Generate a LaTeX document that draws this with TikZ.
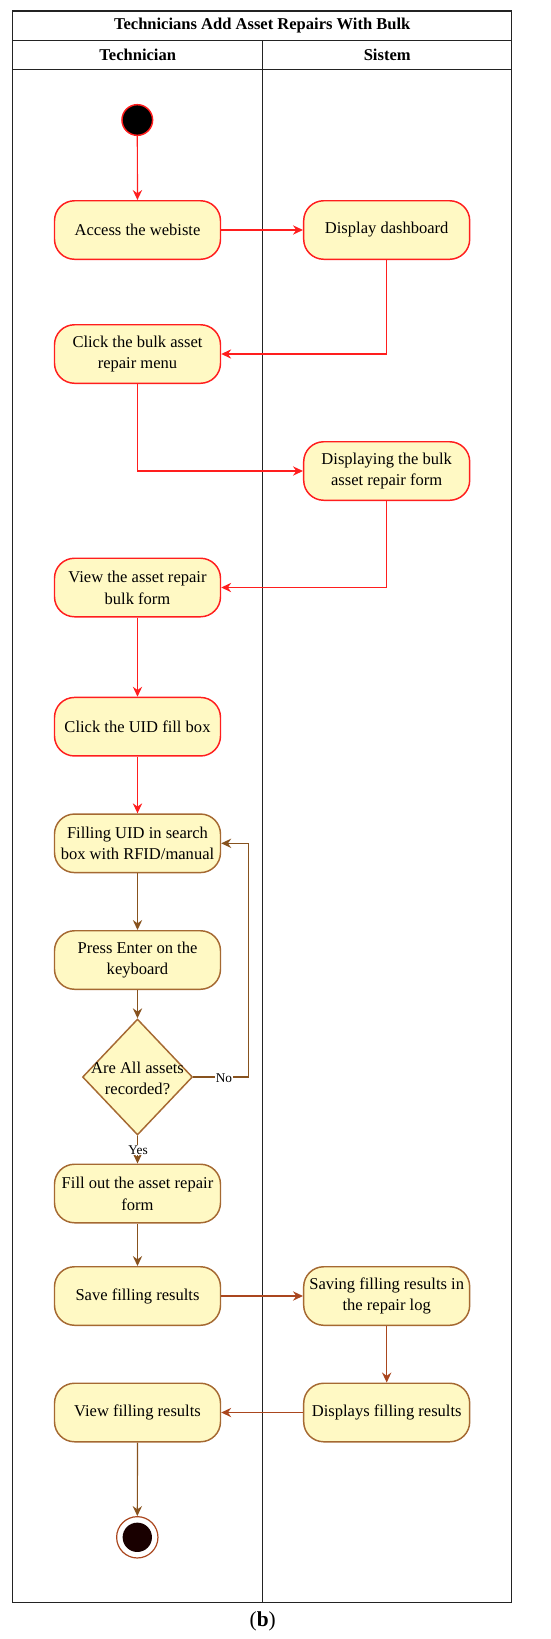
\documentclass[tikz,border=0pt]{standalone}
\usepackage{fontspec}
\setmainfont{Liberation Serif}
\usetikzlibrary{arrows.meta,shapes.geometric,calc}
\definecolor{actfill}{RGB}{255,249,196}
\definecolor{redl}{RGB}{255,30,30}
\definecolor{brownl}{RGB}{135,82,30}
\definecolor{rbrown}{RGB}{170,70,30}
\definecolor{bborder}{RGB}{165,105,50}
\definecolor{lanec}{RGB}{35,35,35}
\begin{document}
\begin{tikzpicture}[x=0.75pt,y=-0.75pt,
  txt/.style={font=\fontsize{12.4}{16.3}\selectfont},
  act/.style={txt, draw, fill=actfill, rounded corners=15pt, minimum width=124.5pt,
    minimum height=43.9pt, align=center, inner sep=1pt, line width=1.1pt},
  actr/.style={act, draw=redl},
  actb/.style={act, draw=bborder},
  arr/.style={-{Stealth[length=7.5pt,width=7pt,inset=2.5pt]}, line width=0.9pt},
  arrr/.style={arr, draw=redl},
  arrb/.style={arr, draw=brownl},
  arrrb/.style={arr, draw=rbrown},
  lane/.style={draw=lanec, line width=1.1pt},
  head/.style={font=\fontsize{12.4}{15}\selectfont\bfseries},
  lbl/.style={font=\fontsize{10}{12}\selectfont, fill=white, inner sep=0.5pt}
]
\useasboundingbox (0,0) rectangle (550,1639);
% frame and lanes
\draw[lane] (12.7,11) rectangle (511.7,1602.7);
\draw[lane] (12.7,40.3) -- (511.7,40.3);
\draw[lane] (12.7,69.3) -- (511.7,69.3);
\draw[lane] (262.7,40.3) -- (262.7,1602.7);
\node[head] (title) at (262.2,25.9) {Technicians Add Asset Repairs With Bulk};
\node[head] (htech) at (137.7,55) {Technician};
\node[head] (hsys) at (387.2,55) {Sistem};
% nodes
\node[circle, draw=redl, fill=black, line width=1.1pt, minimum size=23pt, inner sep=0pt] (start) at (137.3,120) {};
\node[actr] (access) at (137.5,230) {Access the webiste};
\node[actr] (dash) at (386.7,230) {Display dashboard};
\node[actr] (click) at (137.5,354) {Click the bulk asset\\repair menu};
\node[actr] (disp) at (386.7,471) {Displaying the bulk\\asset repair form};
\node[actr] (view) at (137.5,587.5) {View the asset repair\\bulk form};
\node[actr] (uid) at (137.5,726.7) {Click the UID fill box};
\node[actb] (fill) at (137.5,843.3) {Filling UID in search\\box with RFID/manual};
\node[actb] (press) at (137.5,960) {Press Enter on the\\keyboard};
\node[diamond, draw=bborder, fill=actfill, line width=1.1pt, inner sep=0pt,
  minimum width=82.5pt, minimum height=87pt] (dec) at (137.5,1077) {};
\node[txt, align=center, inner sep=0pt] (dect) at (137.5,1078.5) {Are All assets\\recorded?};
\node[actb] (form) at (137.5,1193.5) {Fill out the asset repair\\form};
\node[actb] (save) at (137.5,1296) {Save filling results};
\node[actb] (saving) at (386.7,1296) {Saving filling results in\\the repair log};
\node[actb] (viewres) at (137.5,1412.5) {View filling results};
\node[actb] (displays) at (386.7,1412.5) {Displays filling results};
\node[circle, draw=rbrown, fill=white, line width=0.9pt, minimum size=31pt, inner sep=0pt] (end) at (137.3,1537.3) {};
\node[circle, fill=black!90!red, minimum size=22pt, inner sep=0pt] (endin) at (end.center) {};
\coordinate (loopc) at (248.3,1077);
% connectors
\draw[arrr] (start) -- (access);
\draw[arrr] (access) -- (dash);
\draw[arrr] (dash.south) |- (click.east);
\draw[arrr] (click.south) |- (disp.west);
\draw[arrr] (disp.south) |- (view.east);
\draw[arrr] (view) -- (uid);
\draw[arrr] (uid) -- (fill);
\draw[arrb] (fill) -- (press);
\draw[arrb] (press) -- (dec);
\draw[arrb] (dec.east) -- (loopc) |- (fill.east);
\node[lbl] (no) at (224,1078) {No};
\draw[arrb] (dec.south) -- (form.north);
\node[lbl] (yes) at (138,1150) {Yes};
\draw[arrb] (form) -- (save);
\draw[arrrb] (save) -- (saving);
\draw[arrrb] (saving) -- (displays);
\draw[arrrb] (displays) -- (viewres);
\draw[arrb] (viewres) -- (end);
\node[font=\fontsize{16}{18}\selectfont] (cap) at (262.7,1621.7) {(\textbf{b})};
\end{tikzpicture}
\end{document}
